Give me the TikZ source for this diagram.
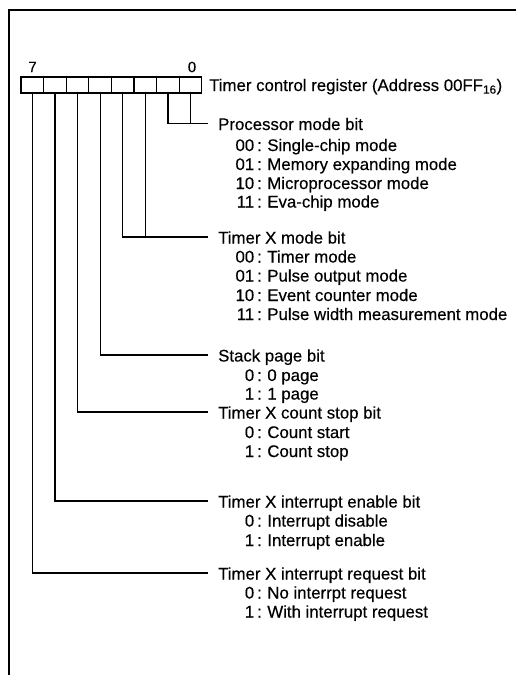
\documentclass[tikz,border=0pt]{standalone}
\usepackage{fontspec}
\setmainfont{Liberation Sans}
\newfontfamily\heavy[FakeBold=0.35]{Liberation Sans}
\newcommand\itm[2]{\makebox[21pt][r]{#1}\hspace{3pt}:\hspace{5.5pt}#2}
\begin{document}
\begin{tikzpicture}[x=1pt,y=-1pt,
  regbox/.style={draw, line width=1.3pt, minimum width=22.6pt, minimum height=16pt, inner sep=0pt, outer sep=0pt},
  txt/.style={anchor=base west, inner sep=0pt, font=\heavy\fontsize{16.8}{19}\selectfont},
  bitnum/.style={inner sep=0pt, font=\heavy\fontsize{15}{15}\selectfont},
  conn/.style={line width=1.2pt},
  frame/.style={line width=2pt}]
\useasboundingbox (0,0) rectangle (516,675);
% frame
\coordinate (ftr) at (516,10);
\coordinate (ftl) at (8.5,10);
\coordinate (fbl) at (8.5,675);
\draw[frame] (ftr) -- (ftl) -- (fbl);
% register
\foreach \i in {0,...,7}
  \node[regbox] (b\i) at ({21+22.6*(7-\i)+11.3},85) {};
\node[bitnum] (n7) at (32.5,67) {7};
\node[bitnum] (n0) at (192,67) {0};
\node[txt] (reg) at (209,91) {Timer control register (Address 00FF\textsubscript{16})};
% processor mode
\node[txt] (pm) at (218,130) {Processor mode bit};
\node[txt] (pm1) at (233,151) {\itm{00}{Single-chip mode}};
\node[txt] (pm2) at (233,170) {\itm{01}{Memory expanding mode}};
\node[txt] (pm3) at (233,189) {\itm{10}{Microprocessor mode}};
\node[txt] (pm4) at (233,207.5) {\itm{11}{Eva-chip mode}};
\coordinate (pmL) at ([xshift=-10pt,yshift=6.5pt]pm.base west);
\draw[conn] (b1.south) |- (pmL);
\draw[conn] (b0.south) -- (b0.south |- pmL);
% timer X mode
\node[txt] (tm) at (218,243.5) {Timer X mode bit};
\node[txt] (tm1) at (233,262.5) {\itm{00}{Timer mode}};
\node[txt] (tm2) at (233,281.5) {\itm{01}{Pulse output mode}};
\node[txt] (tm3) at (233,301) {\itm{10}{Event counter mode}};
\node[txt] (tm4) at (233,320) {\itm{11}{Pulse width measurement mode}};
\coordinate (tmL) at ([xshift=-10pt,yshift=6.5pt]tm.base west);
\draw[conn] (b3.south) |- (tmL);
\draw[conn] (b2.south) -- (b2.south |- tmL);
% stack page
\node[txt] (sp) at (218,361.5) {Stack page bit};
\node[txt] (sp1) at (233,381) {\itm{0}{0 page}};
\node[txt] (sp2) at (233,399.5) {\itm{1}{1 page}};
\coordinate (spL) at ([xshift=-10pt,yshift=6.5pt]sp.base west);
\draw[conn] (b4.south) |- (spL);
% count stop
\node[txt] (cs) at (218,418.5) {Timer X count stop bit};
\node[txt] (cs1) at (233,438) {\itm{0}{Count start}};
\node[txt] (cs2) at (233,457) {\itm{1}{Count stop}};
\coordinate (csL) at ([xshift=-10pt,yshift=6.5pt]cs.base west);
\draw[conn] (b5.south) |- (csL);
% interrupt enable
\node[txt] (ie) at (218,507.5) {Timer X interrupt enable bit};
\node[txt] (ie1) at (233,526.5) {\itm{0}{Interrupt disable}};
\node[txt] (ie2) at (233,546) {\itm{1}{Interrupt enable}};
\coordinate (ieL) at ([xshift=-10pt,yshift=6.5pt]ie.base west);
\draw[conn] (b6.south) |- (ieL);
% interrupt request
\node[txt] (ir) at (218,579.5) {Timer X interrupt request bit};
\node[txt] (ir1) at (233,598.5) {\itm{0}{No interrpt request}};
\node[txt] (ir2) at (233,617.5) {\itm{1}{With interrupt request}};
\coordinate (irL) at ([xshift=-10pt,yshift=6.5pt]ir.base west);
\draw[conn] (b7.south) |- (irL);
\end{tikzpicture}
\end{document}
